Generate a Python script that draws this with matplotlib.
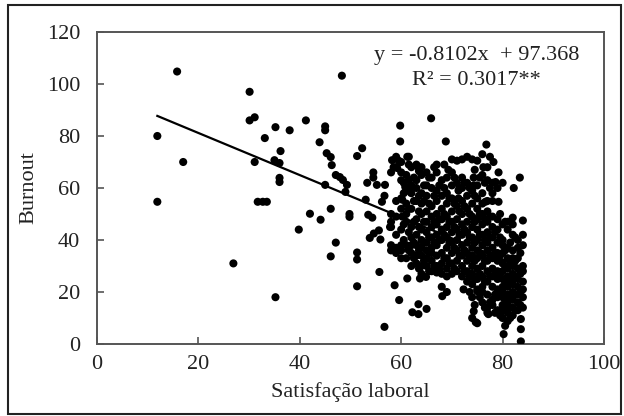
import numpy as np
import matplotlib
matplotlib.use("Agg")
import matplotlib.pyplot as plt
from matplotlib.patches import Rectangle

plt.rcParams['font.family'] = ['Liberation Serif', 'DejaVu Serif']

# pontos isolados (fora da nuvem principal)
scattered = [
    (11.9, 80), (11.9, 54.7), (15.8, 104.8), (17, 70), (26.9, 31), (30.1, 97),
    (30.1, 86), (31.1, 87.2), (31.1, 70), (31.7, 54.7), (32.7, 54.7), (33.5, 54.7),
    (33.1, 79.2), (35.2, 83.4), (35, 70.7), (36, 69.6), (36.2, 74.2), (36, 63.9),
    (36, 62.3), (35.2, 18), (38, 82.2), (39.8, 44), (41.2, 86), (42, 50.1),
    (43.9, 77.6), (44.1, 47.8), (45, 83.7), (45, 82.2), (45.3, 73.4), (46.1, 71.9),
    (46.3, 68.8), (45, 61.2), (46.1, 52), (47.1, 39), (46.1, 33.7), (47.1, 65),
    (47.9, 64.2), (48.5, 63.1), (49.3, 61.2), (49, 58.5), (48.3, 103.2), (49.8, 50),
    (49.8, 48.9), (51.3, 72.3), (52.3, 75.3), (51.3, 35.2), (51.3, 32.5), (51.3, 22.2),
    (53, 55.5), (53.5, 49.7), (54.3, 48.6), (53.3, 62), (54.5, 66), (54.5, 64),
    (55.2, 61.2), (56.8, 61.2), (56.2, 54.7), (56.7, 57), (53.8, 40.8), (54.6, 42.5),
    (55.6, 43.7), (55.9, 40.2), (55.7, 27.7), (56.7, 6.6), (57.8, 45), (58.7, 22.6),
    (59.6, 16.9), (59.8, 84), (59.8, 77.9), (58.2, 70.7), (61.2, 72), (59.2, 67.7),
    (63.4, 68), (60.8, 60.4), (61.8, 58.5), (60.2, 55.5), (60.2, 49), (61.2, 25.2),
    (62.2, 12.2), (63.4, 11.5), (63.4, 15.3), (65, 13.5), (63.7, 25.2), (64.9, 25.8),
    (65.9, 86.8), (68.8, 77.9), (76.8, 76.7), (83.4, 64), (82.2, 60), (79.2, 66),
    (78.6, 62.3), (76.2, 68), (78.2, 70), (79.2, 54.7), (82, 48.6), (84, 47.5),
    (68.1, 18.4), (72.3, 21), (75, 20.3), (83.6, 1), (80.2, 3.8), (83.6, 5.7),
    (83.6, 9.6), (81, 8.8), (74.3, 12.6), (74.7, 8.4), (77.2, 11.5), (78, 15),
]

# nuvem, parte superior (burnout >= 40)
cloud_upper = [
    (58, 45), (58, 47), (58, 50), (58, 66), (58.5, 68),
    (59, 42), (59, 49), (59, 55), (59, 68), (59, 72), (59.5, 70.5),
    (60, 44), (60, 52), (60, 56), (60, 63), (60, 66), (60, 70),
    (61, 47), (61, 50), (61, 54), (61, 60), (61, 65), (61.5, 72),
    (62, 41), (62, 45), (62, 52), (62, 58), (62, 61), (62, 68),
    (63, 42), (63, 48), (63, 55), (63, 60), (63, 63), (63, 69), (63.5, 66.5),
    (64, 40), (64, 44), (64, 50), (64, 54), (64, 58), (64, 65), (64, 68),
    (65, 43), (65, 47), (65, 51), (65, 57), (65, 61), (65, 66),
    (66, 41), (66, 45), (66, 49), (66, 53), (66, 60), (66, 64), (66.5, 68),
    (67, 42), (67, 46), (67, 50), (67, 55), (67, 59), (67, 66), (67, 69),
    (68, 40), (68, 44), (68, 48), (68, 52), (68, 57), (68, 63), (68.5, 69),
    (69, 41), (69, 45), (69, 49), (69, 54), (69, 58), (69, 64), (69.3, 67),
    (70, 43), (70, 47), (70, 51), (70, 56), (70, 61), (70, 66), (70, 71),
    (71, 40), (71, 44), (71, 48), (71, 53), (71.3, 56), (71.3, 59), (71, 62), (71, 70.5),
    (72, 42), (72, 46), (72, 50), (72, 55), (72, 60), (72, 64), (72, 71),
    (73, 43), (73, 47), (73, 52), (73, 57), (73, 62), (73, 72),
    (74, 41), (74, 45), (74, 49), (74, 54), (74, 59), (74.3, 61), (74.3, 64), (74, 71),
    (75, 40), (75, 44), (75, 48), (75, 52), (75, 56), (75, 61), (75, 70.5),
    (76, 42), (76, 46), (76, 50), (76, 54), (76, 58), (76, 65), (76.6, 54.7), (76, 73),
    (77, 43), (77, 47), (77, 51), (77, 55), (77, 63), (77, 68),
    (78, 41), (78, 45), (78, 49), (78, 55), (78, 58), (78, 62),
    (79, 44), (79, 48), (79, 60),
    (80, 40), (80, 46), (80, 62), (81, 44), (81, 47),
    (82, 42), (82, 46), (83, 40), (84, 42),
]

# nuvem, parte inferior (burnout < 40)
cloud_lower = [
    (58, 36), (58, 38), (59, 35), (59, 37),
    (60, 33), (60, 36), (60, 38), (61, 33), (61, 38),
    (62, 30), (62, 35), (62, 38), (63, 31), (63, 34), (63, 38),
    (64, 27), (64, 30), (64, 34), (64, 37),
    (65, 30), (65, 33), (65, 36), (65, 39),
    (66, 28), (66, 32), (66, 35), (66, 37),
    (67, 27.5), (67, 30), (67, 34), (67, 38),
    (68, 22), (68, 27), (68, 31), (68, 35),
    (69, 20), (69, 26), (69, 29), (69, 33), (69, 37),
    (70, 27), (70, 31), (70, 35), (70, 39),
    (71, 28), (71, 32), (71, 36),
    (72, 26), (72, 30), (72, 34), (72, 38),
    (73, 24), (73, 28), (73, 32), (73, 35), (73, 39),
    (74, 10), (74, 18), (74, 23), (74, 27), (74, 30), (74, 34), (74, 37),
    (75, 8), (75, 21), (75, 25), (75, 29), (75, 33), (75, 36),
    (76, 16), (76, 20), (76, 22), (76, 26), (76, 30), (76, 34), (76, 38),
    (77, 12), (77, 14), (77, 19), (77, 24), (77, 28), (77, 32), (77, 36), (77, 39),
    (78, 17), (78, 22), (78, 26), (78, 29), (78, 33), (78, 37),
    (79, 13), (79, 18), (79, 21), (79, 25), (79, 28), (79, 32), (79, 35), (79, 39),
    (80, 10), (80, 13), (80, 15), (80, 18), (80, 20), (80, 22), (80, 25), (80, 28),
    (80, 31), (80, 35), (80, 38),
    (81, 12), (81, 14), (81, 16), (81, 19), (81, 22), (81, 24), (81, 26), (81, 29),
    (81, 33), (81, 37),
    (82, 11), (82, 14), (82, 17), (82, 20), (82, 23), (82, 25), (82, 27), (82, 30),
    (82, 33), (82, 36),
    (83, 13), (83, 16), (83, 19), (83, 22), (83, 25), (83, 29), (83, 33), (83, 37),
    (84, 14), (84, 18), (84, 21), (84, 24), (84, 28), (84, 30), (84, 38),
]

# nuvem, colunas intermedias
cloud_mid = [
    (60.5, 40), (60.5, 46), (60.5, 58), (60.5, 62),
    (61.5, 36), (61.5, 43), (61.5, 52), (61.5, 63), (61.5, 69),
    (62.5, 33), (62.5, 39), (62.5, 47), (62.5, 55), (62.5, 64),
    (63.5, 29), (63.5, 36), (63.5, 45), (63.5, 51), (63.5, 57),
    (64.5, 32), (64.5, 39), (64.5, 47), (64.5, 55), (64.5, 61),
    (65.5, 28), (65.5, 35), (65.5, 41), (65.5, 54), (65.5, 64),
    (66.5, 30), (66.5, 39), (66.5, 47), (66.5, 57),
    (67.5, 29), (67.5, 40), (67.5, 48), (67.5, 61),
    (68.5, 33), (68.5, 42), (68.5, 50), (68.5, 60),
    (69.5, 31), (69.5, 39), (69.5, 47), (69.5, 56),
    (70.5, 29), (70.5, 37), (70.5, 45), (70.5, 54), (70.5, 64),
    (71.5, 34), (71.5, 42), (71.5, 51), (71.5, 60),
    (72.5, 28), (72.5, 36), (72.5, 44), (72.5, 53), (72.5, 62),
    (73.5, 20), (73.5, 26), (73.5, 33), (73.5, 41), (73.5, 50), (73.5, 60),
    (74.5, 15), (74.5, 25), (74.5, 32), (74.5, 39), (74.5, 47), (74.5, 57), (74.5, 67),
    (75.5, 18), (75.5, 27), (75.5, 35), (75.5, 42), (75.5, 50), (75.5, 64),
    (76.5, 14), (76.5, 24), (76.5, 32), (76.5, 40), (76.5, 48), (76.5, 62),
    (77.5, 16), (77.5, 26), (77.5, 34), (77.5, 41), (77.5, 49), (77.5, 60), (77.5, 72),
    (78.5, 12), (78.5, 19), (78.5, 27), (78.5, 35), (78.5, 43),
    (79.5, 11), (79.5, 20), (79.5, 27), (79.5, 34), (79.5, 41), (79.5, 50),
    (80.5, 7), (80.5, 17), (80.5, 24), (80.5, 30), (80.5, 36), (80.5, 47),
    (81.5, 10), (81.5, 18), (81.5, 25), (81.5, 31), (81.5, 39),
    (82.5, 13), (82.5, 19), (82.5, 26), (82.5, 32), (82.5, 41),
    (83.5, 15), (83.5, 20), (83.5, 27), (83.5, 35),
]

# reta de regressao
slope = -0.8102
intercept = 97.368
equation = "y = -0.8102x  + 97.368"
r2_text = "R² = 0.3017**"

pts = np.array(scattered + cloud_upper + cloud_lower + cloud_mid)
sat = pts[:, 0]
burn = pts[:, 1]

fig = plt.figure(figsize=(6.24, 4.16), dpi=100)
ax = fig.add_axes([97 / 624, 1 - 344 / 416, (604 - 97) / 624, (344 - 32) / 416])

ax.scatter(sat, burn, s=34, color='black', edgecolors='none', zorder=3)

xl = np.array([sat.min(), sat.max()])
ax.plot(xl, slope * xl + intercept, color='black', lw=1.6, zorder=2)

ax.set_xlim(0, 100)
ax.set_ylim(0, 120)
ax.set_xticks(range(0, 101, 20))
ax.set_yticks(range(0, 121, 20))
ax.tick_params(axis='both', direction='in', length=5, width=1.2, color='#555',
               labelsize=16, labelcolor='#222')
ax.tick_params(axis='y', pad=12)
ax.tick_params(axis='x', pad=8)
for sp in ax.spines.values():
    sp.set_color('#555')
    sp.set_linewidth(1.4)

ax.set_xlabel('Satisfação laboral', fontsize=16, color='#222', labelpad=6)
ax.set_ylabel('Burnout', fontsize=16, color='#222', labelpad=6)

ax.text(74.9, 110.9, equation, ha='center', va='center', fontsize=16, color='#222')
ax.text(74.9, 101.3, r2_text, ha='center', va='center', fontsize=16, color='#222')

fig.patches.append(Rectangle((8 / 624, 2 / 416), 613 / 624, 409 / 416,
                             transform=fig.transFigure, fill=False,
                             edgecolor='#222', lw=1.5))

fig.savefig('out.png', dpi=100)
